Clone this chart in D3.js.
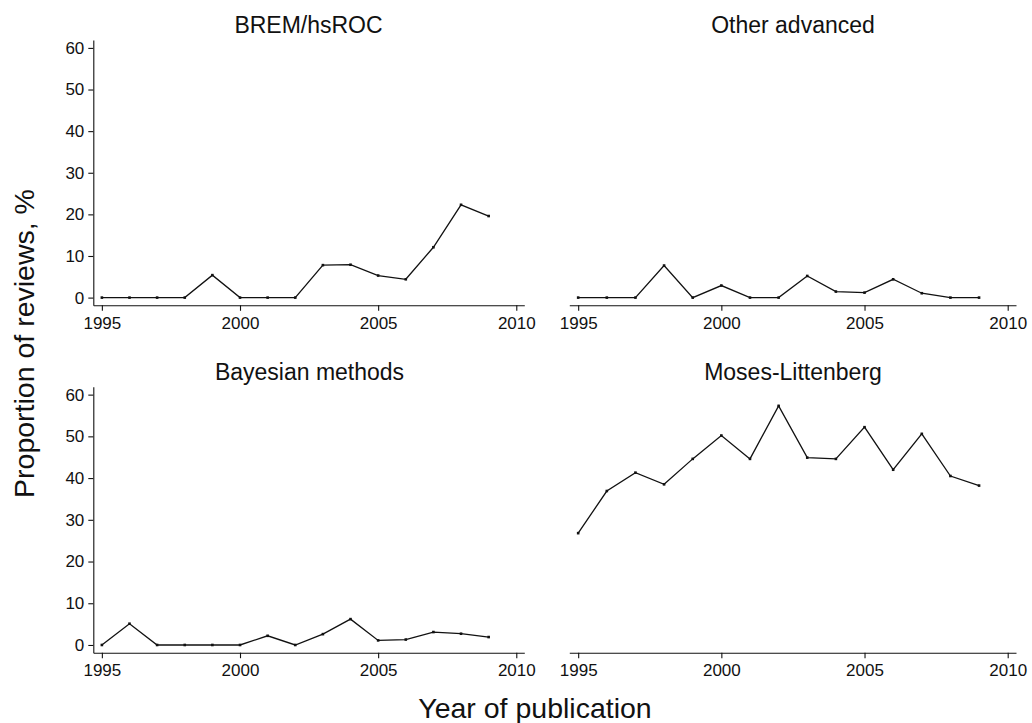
<!DOCTYPE html>
<html>
<head>
<meta charset="utf-8">
<script src="https://cdn.jsdelivr.net/npm/d3@7"></script>
<style>
  html, body { margin: 0; padding: 0; background: #fff; }
  svg text { font-family: "Liberation Sans", Arial, Helvetica, sans-serif; fill: #111; }
</style>
</head>
<body>
<svg id="chart" width="1032" height="723"></svg>
<script>
const years = [1995,1996,1997,1998,1999,2000,2001,2002,2003,2004,2005,2006,2007,2008,2009];
const bremHsroc = [0,0,0,0,5.4,0,0,0,7.8,7.9,5.3,4.4,12.1,22.3,19.6];
const otherAdvanced = [0,0,0,7.7,0,2.9,0,0,5.2,1.45,1.2,4.4,1.05,0,0];
const bayesian = [0,5.1,0,0,0,0,2.2,0,2.6,6.2,1.1,1.3,3.1,2.7,1.9];
const mosesLittenberg = [26.8,36.9,41.3,38.5,44.6,50.2,44.6,57.3,44.9,44.6,52.2,42.0,50.6,40.5,38.2];
const panelTitles = ["BREM/hsROC","Other advanced","Bayesian methods","Moses-Littenberg"];
const xTicks = [1995,2000,2005,2010];
const yTicks = [0,10,20,30,40,50,60];
const xTitle = "Year of publication";
const yTitle = "Proportion of reviews, %";

const seriesList = [bremHsroc, otherAdvanced, bayesian, mosesLittenberg];

const svg = d3.select("#chart");
const xDomain = [1994.69, 2010.29];
const yDomain = [-1.85, 61.9];

const layout = [
  {x0: 93.3, x1: 524.3, y0: 305.3, y1: 40, yAxis: true, titleX: 308.5, titleY: 33},
  {x0: 569.3, x1: 1016, y0: 305.3, y1: 40, yAxis: false, titleX: 793, titleY: 33},
  {x0: 93.3, x1: 524.3, y0: 652.7, y1: 386.7, yAxis: true, titleX: 309.5, titleY: 380},
  {x0: 569.3, x1: 1016, y0: 652.7, y1: 386.7, yAxis: false, titleX: 793, titleY: 380}
];

layout.forEach((p, i) => {
  const x = d3.scaleLinear().domain(xDomain).range([p.x0, p.x1]);
  const y = d3.scaleLinear().domain(yDomain).range([p.y0, p.y1]);
  const g = svg.append("g");

  const xa = g.append("g")
    .attr("transform", `translate(0,${p.y0})`)
    .call(d3.axisBottom(x).tickValues(xTicks).tickFormat(d3.format("d")).tickSize(5.5).tickSizeOuter(0).tickPadding(6));
  xa.selectAll("path, line").attr("stroke", "#111").attr("stroke-width", 1.1);
  xa.selectAll("text").attr("font-size", 17).attr("fill", "#111");

  if (p.yAxis) {
    const ya = g.append("g")
      .attr("transform", `translate(${p.x0},0)`)
      .call(d3.axisLeft(y).tickValues(yTicks).tickSize(5).tickSizeOuter(0).tickPadding(4));
    ya.selectAll("path, line").attr("stroke", "#111").attr("stroke-width", 1.1);
    ya.selectAll("text").attr("font-size", 17).attr("fill", "#111");
  }

  const data = years.map((yr, k) => ({yr, v: seriesList[i][k]}));
  const line = d3.line().x(d => x(d.yr)).y(d => y(d.v));
  g.append("path").datum(data)
    .attr("fill", "none").attr("stroke", "#111").attr("stroke-width", 1.3)
    .attr("d", line);
  g.selectAll("rect.pt").data(data).enter().append("rect")
    .attr("class", "pt")
    .attr("x", d => x(d.yr) - 1.3).attr("y", d => y(d.v) - 1.3)
    .attr("width", 2.6).attr("height", 2.6).attr("fill", "#111");

  g.append("text")
    .attr("x", p.titleX).attr("y", p.titleY)
    .attr("text-anchor", "middle").attr("font-size", 23)
    .text(panelTitles[i]);
});

svg.append("text")
  .attr("x", 535).attr("y", 718)
  .attr("text-anchor", "middle").attr("font-size", 28.5)
  .text(xTitle);

svg.append("text")
  .attr("transform", "translate(33.5,343.5) rotate(-90)")
  .attr("text-anchor", "middle").attr("font-size", 28.5)
  .text(yTitle);
</script>
</body>
</html>
